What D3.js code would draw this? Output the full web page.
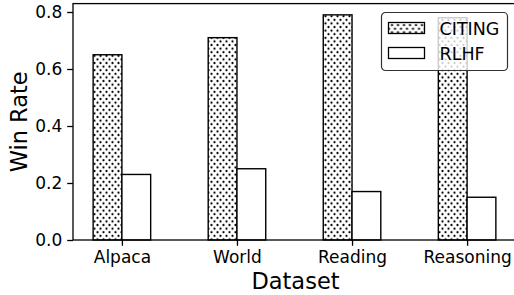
<!DOCTYPE html>
<html>
<head>
<meta charset="utf-8">
<script src="https://cdn.jsdelivr.net/npm/d3@7"></script>
<style>
  body { margin: 0; background: #fff; }
  svg { display: block; font-family: "DejaVu Sans", sans-serif; }
</style>
</head>
<body>
<svg width="514" height="295"></svg>
<script>
const datasets = ['Alpaca', 'World', 'Reading', 'Reasoning'];
const citing = [0.65, 0.71, 0.79, 0.78];
const rlhf = [0.23, 0.25, 0.17, 0.15];
const yTicks = [0.0, 0.2, 0.4, 0.6, 0.8];
const seriesNames = ['CITING', 'RLHF'];

const svg = d3.select('svg');
const barW = 0.25;

var x = d3.scaleLinear()
    .domain([-0.425, 3.425])
    .range([73, 516]);

var y = d3.scaleLinear()
    .domain([0, 0.8295])
    .range([240, 3.6]);

// dotted hatch
const defs = svg.append('defs');
const pat = defs.append('pattern')
    .attr('id', 'dots')
    .attr('patternUnits', 'userSpaceOnUse')
    .attr('width', 6).attr('height', 7.2);
pat.append('rect').attr('width', 6).attr('height', 7.2).attr('fill', '#fff');
[[1.5, 1.8], [4.5, 5.4]].forEach(p => {
    pat.append('circle').attr('cx', p[0]).attr('cy', p[1]).attr('r', 1.1).attr('fill', '#000');
});

/////////////////////////////
// BARS
/////////////////////////////
svg.append('g').attr('class', 'citing')
    .selectAll('rect')
    .data(citing)
    .enter()
    .append('rect')
        .attr('x', (d, i) => x(i - barW))
        .attr('y', d => y(d))
        .attr('width', (d, i) => x(i) - x(i - barW))
        .attr('height', d => y(0) - y(d))
        .attr('fill', 'url(#dots)')
        .attr('stroke', '#000')
        .attr('stroke-width', 1.4);

svg.append('g').attr('class', 'rlhf')
    .selectAll('rect')
    .data(rlhf)
    .enter()
    .append('rect')
        .attr('x', (d, i) => x(i))
        .attr('y', d => y(d))
        .attr('width', (d, i) => x(i + barW) - x(i))
        .attr('height', d => y(0) - y(d))
        .attr('fill', '#fff')
        .attr('stroke', '#000')
        .attr('stroke-width', 1.4);

/////////////////////////////
// AXES
/////////////////////////////
const xAxis = svg.append('g')
    .attr('transform', 'translate(0,' + y(0) + ')')
    .call(d3.axisBottom(x).tickValues(d3.range(datasets.length))
        .tickFormat(i => datasets[i]).tickSizeOuter(0).tickSize(5.8).tickPadding(5));
xAxis.select('.domain').remove();

const yAxis = svg.append('g')
    .attr('transform', 'translate(' + x(-0.425) + ',0)')
    .call(d3.axisLeft(y).tickValues(yTicks).tickFormat(d3.format('.1f'))
        .tickSizeOuter(0).tickSize(5.8).tickPadding(5));
yAxis.select('.domain').remove();

[xAxis, yAxis].forEach(a => {
    a.selectAll('text').attr('font-size', 17).attr('fill', '#000')
        .attr('font-family', '"DejaVu Sans", sans-serif');
    a.selectAll('line').attr('stroke', '#000').attr('stroke-width', 1.3);
});

// spines
const x0 = x(-0.425), x1 = x(3.425), yb = y(0), yt = y(0.8295);
svg.append('rect')
    .attr('x', x0).attr('y', yt)
    .attr('width', x1 - x0).attr('height', yb - yt)
    .attr('fill', 'none').attr('stroke', '#000').attr('stroke-width', 1.3);

// axis labels
svg.append('text')
    .attr('x', (x0 + 514) / 2 + 2).attr('y', 289)
    .attr('text-anchor', 'middle')
    .attr('font-size', 22.5)
    .text('Dataset');

svg.append('text')
    .attr('transform', 'translate(27,' + ((yb + yt) / 2) + ') rotate(-90)')
    .attr('text-anchor', 'middle')
    .attr('font-size', 22.5)
    .text('Win Rate');

/////////////////////////////
// LEGEND
/////////////////////////////
const lg = svg.append('g').attr('transform', 'translate(381.5,12.5)');
lg.append('rect')
    .attr('width', 126).attr('height', 58).attr('rx', 4)
    .attr('fill', '#fff').attr('fill-opacity', 0.8)
    .attr('stroke', '#333').attr('stroke-width', 1.2);

seriesNames.forEach((name, i) => {
    lg.append('rect')
        .attr('x', 7).attr('y', 10 + i * 25)
        .attr('width', 36).attr('height', 11)
        .attr('fill', i === 0 ? 'url(#dots)' : '#fff')
        .attr('stroke', '#000').attr('stroke-width', 1.3);
    lg.append('text')
        .attr('x', 58).attr('y', 22 + i * 25)
        .attr('font-size', 17.5)
        .text(name);
});
</script>
</body>
</html>
